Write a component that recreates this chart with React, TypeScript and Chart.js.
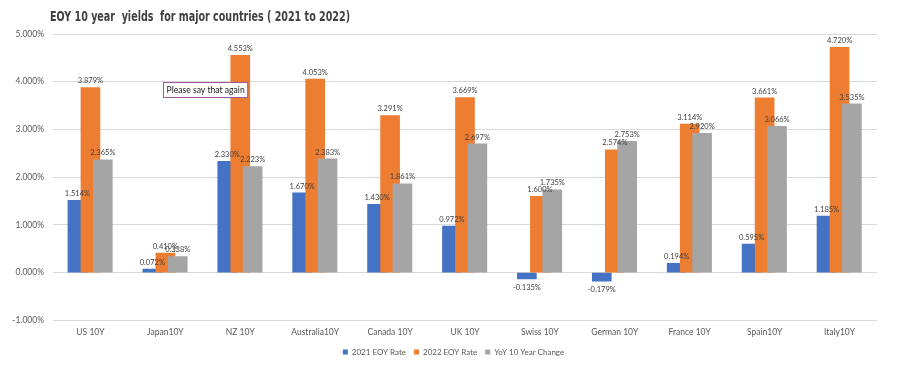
import { useEffect, useRef } from "react";
import { Chart, registerables } from "chart.js";

Chart.register(...registerables);

const categories = [
  "US 10Y",
  "Japan10Y",
  "NZ 10Y",
  "Australia10Y",
  "Canada 10Y",
  "UK 10Y",
  "Swiss 10Y",
  "German 10Y",
  "France 10Y",
  "Spain10Y",
  "Italy10Y",
];
const rate2021 = [1.514, 0.072, 2.33, 1.67, 1.43, 0.972, -0.135, -0.179, 0.194, 0.595, 1.185];
const rate2022 = [3.879, 0.41, 4.553, 4.053, 3.291, 3.669, 1.6, 2.574, 3.114, 3.661, 4.72];
const yoyChange = [2.365, 0.338, 2.223, 2.383, 1.861, 2.697, 1.735, 2.753, 2.92, 3.066, 3.535];
const seriesNames = ["2021 EOY Rate", "2022 EOY Rate", "YoY 10 Year Change"];
const seriesColors = ["#4472C4", "#ED7D31", "#A5A5A5"];
const yTickMin = -1;
const yTickMax = 5;
const yTickStep = 1;
const titleText = "EOY 10 year  yields  for major countries ( 2021 to 2022)";
const noteText = "Please say that again";
const notePos = { x: 1.525, y: 3.83 };

const FONT = "Lato, 'DejaVu Sans', sans-serif";
const BAR_OFFSETS = [-0.174, 0, 0.165];

const titlePlugin = {
  id: "titleDraw",
  afterDraw(chart: any) {
    const ctx = chart.ctx;
    ctx.save();
    ctx.font = `bold 14px 'DejaVu Sans Condensed', 'DejaVu Sans', sans-serif`;
    const w = ctx.measureText(titleText).width;
    const target = 300;
    ctx.translate(50, 21);
    ctx.scale(target / w, 1);
    ctx.fillStyle = "#404040";
    ctx.textBaseline = "alphabetic";
    ctx.textAlign = "left";
    ctx.fillText(titleText, 0, 0);
    ctx.restore();
  },
};

const legendShiftPlugin = {
  id: "legendShift",
  afterLayout(chart: any) {
    const lg = chart.legend;
    if (lg) {
      lg.left += 15;
      lg.right += 15;
    }
  },
};

const labelPlugin = {
  id: "valueLabels",
  afterDatasetsDraw(chart: any) {
    const ctx = chart.ctx;
    ctx.save();
    ctx.font = `7.5px ${FONT}`;
    ctx.fillStyle = "#404040";
    ctx.textAlign = "center";
    chart.data.datasets.forEach((ds: any, di: number) => {
      const meta = chart.getDatasetMeta(di);
      meta.data.forEach((el: any, i: number) => {
        const v = ds.data[i].y;
        const txt = v.toFixed(3) + "%";
        if (v >= 0) {
          ctx.textBaseline = "bottom";
          ctx.fillText(txt, el.x, el.y - 3);
        } else {
          ctx.textBaseline = "top";
          ctx.fillText(txt, el.x, el.y + 5);
        }
      });
    });
    ctx.restore();
  },
};

const notePlugin = {
  id: "noteBox",
  afterDraw(chart: any) {
    const ctx = chart.ctx;
    const xs = chart.scales.x;
    const ys = chart.scales.y;
    const cx = xs.getPixelForValue(notePos.x);
    const cy = ys.getPixelForValue(notePos.y);
    ctx.save();
    ctx.font = `8.6px ${FONT}`;
    const tw = ctx.measureText(noteText).width;
    const bw = tw + 6;
    const bh = 15;
    const left = Math.round(cx - bw / 2) + 0.5;
    const top = Math.round(cy - bh / 2) + 0.5;
    ctx.fillStyle = "#ffffff";
    ctx.fillRect(left, top, bw, bh);
    ctx.strokeStyle = "#9E5A9E";
    ctx.lineWidth = 1;
    ctx.strokeRect(left, top, bw, bh);
    ctx.fillStyle = "#1a1a1a";
    ctx.textAlign = "center";
    ctx.textBaseline = "middle";
    ctx.fillText(noteText, left + bw / 2, top + bh / 2 + 0.5);
    ctx.restore();
  },
};

export default function App() {
  const ref = useRef<HTMLCanvasElement | null>(null);

  useEffect(() => {
    if (!ref.current) return;
    const series = [rate2021, rate2022, yoyChange];
    const chart = new Chart(ref.current, {
      type: "bar",
      data: {
        datasets: series.map((vals, si) => ({
          label: seriesNames[si],
          data: vals.map((v, i) => ({ x: i + BAR_OFFSETS[si], y: v })),
          backgroundColor: seriesColors[si],
          borderWidth: 0,
          barThickness: 19,
          grouped: false,
          order: 2 - si,
        })),
      },
      options: {
        animation: false,
        responsive: false,
        devicePixelRatio: 1,
        layout: { padding: { top: 34, left: 0, right: 23, bottom: 0 } },
        plugins: {
          legend: {
            position: "bottom",
            labels: {
              font: { family: FONT, size: 8 },
              color: "#595959",
              boxWidth: 5,
              boxHeight: 5,
              padding: 8,
              sort: (a: any, b: any) => a.datasetIndex - b.datasetIndex,
            },
          },
          tooltip: { enabled: false },
          title: { display: false },
        },
        scales: {
          x: {
            type: "linear",
            offset: false,
            min: -0.5,
            max: categories.length - 0.5,
            grid: { display: false, drawTicks: false },
            border: { display: false },
            afterBuildTicks: (s: any) => {
              s.ticks = categories.map((_, i) => ({ value: i }));
            },
            afterFit: (s: any) => {
              s.height = 19.7;
            },
            ticks: {
              autoSkip: false,
              maxRotation: 0,
              padding: 6.5,
              color: "#595959",
              font: { family: FONT, size: 8.5 },
              callback: (v: any) => categories[v] ?? "",
            },
          },
          y: {
            min: yTickMin,
            max: yTickMax,
            afterFit: (s: any) => {
              s.width = 53;
            },
            grid: { color: "#D9D9D9", drawTicks: false, lineWidth: 1 },
            border: { display: false },
            ticks: {
              stepSize: yTickStep,
              padding: 9,
              color: "#595959",
              font: { family: FONT, size: 8.5 },
              callback: (v: any) => Number(v).toFixed(3) + "%",
            },
          },
        },
      },
      plugins: [legendShiftPlugin, labelPlugin, notePlugin, titlePlugin],
    } as any);
    return () => chart.destroy();
  }, []);

  return (
    <div style={{ position: "absolute", left: 0, top: 0, width: 900, height: 366, background: "#fff" }}>
      <canvas ref={ref} width={900} height={366} style={{ display: "block" }} />
    </div>
  );
}
